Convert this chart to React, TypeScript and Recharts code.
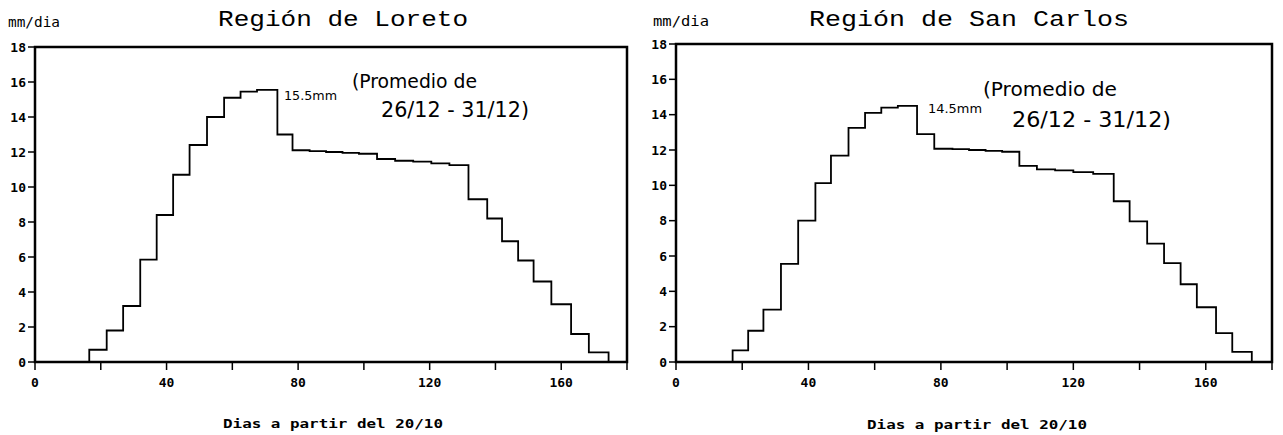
import React from 'react';
import { LineChart, Line, XAxis, YAxis, ReferenceArea } from 'recharts';

// Pentad steps: day the step starts and mean mm/day
const loretoDias = [0, 16.5, 21.8, 26.8, 32, 37, 42, 47, 52.3, 57.5, 62.5, 67.5, 73.7, 78.3, 83.5, 88.5, 93.5, 98.5, 104, 109.5, 115, 120.5, 126, 131.8, 137.5, 142, 146.9, 151.6, 157, 163, 168.4, 174.4];
const loretoMm = [0, 0.7, 1.8, 3.2, 5.85, 8.4, 10.7, 12.4, 14.0, 15.1, 15.45, 15.55, 13.0, 12.1, 12.05, 12.0, 11.95, 11.9, 11.6, 11.5, 11.45, 11.35, 11.25, 9.3, 8.2, 6.9, 5.8, 4.6, 3.3, 1.6, 0.55, 0];

const sanCarlosDias = [0, 17.1, 21.8, 26.4, 31.7, 36.9, 42.1, 46.8, 52.1, 57.1, 62, 67, 72.8, 78, 83.5, 88.5, 93.5, 98.5, 103.7, 109, 114.5, 120, 126, 132.2, 137, 142.3, 147.4, 152.4, 157.3, 163.1, 168, 173.9];
const sanCarlosMm = [0, 0.66, 1.77, 2.96, 5.55, 8.0, 10.13, 11.68, 13.25, 14.1, 14.4, 14.5, 12.9, 12.07, 12.05, 12.0, 11.95, 11.9, 11.1, 10.9, 10.85, 10.75, 10.65, 9.1, 7.96, 6.7, 5.6, 4.4, 3.1, 1.64, 0.57, 0];

const xTicks = [0, 20, 40, 60, 80, 100, 120, 140, 160, 180];
const yTicks = [0, 2, 4, 6, 8, 10, 12, 14, 16, 18];

const toRows = (dias: number[], mm: number[]) => dias.map((d, i) => ({ d, v: mm[i] }));

const tickFont = { fontFamily: 'DejaVu Sans Mono', fontSize: 13, fontWeight: 'bold', fill: '#000' } as const;

function StepChart({ dias, mm, left, top, right }: { dias: number[]; mm: number[]; left: number; top: number; right: number }) {
  return (
    <div style={{ position: 'absolute', left, top: 0 }}>
      <LineChart width={641} height={435} data={toRows(dias, mm)} margin={{ top, right, left: 5, bottom: 53 }}>
        <XAxis
          dataKey="d"
          type="number"
          domain={[0, 180]}
          ticks={xTicks}
          interval={0}
          tickFormatter={(v: number) => (v % 40 === 0 ? String(v) : '')}
          tick={tickFont}
          tickSize={8}
          tickMargin={8}
          height={20}
          axisLine={{ stroke: '#000', strokeWidth: 2 }}
          tickLine={{ stroke: '#000', strokeWidth: 1.5 }}
        />
        <YAxis
          type="number"
          domain={[0, 18]}
          ticks={yTicks}
          interval={0}
          tick={tickFont}
          tickSize={7}
          tickMargin={2}
          width={30}
          axisLine={{ stroke: '#000', strokeWidth: 2 }}
          tickLine={{ stroke: '#000', strokeWidth: 1.5 }}
        />
        <ReferenceArea x1={0} x2={180} y1={0} y2={18} fill="none" stroke="#000" strokeWidth={2.5} />
        <Line type="stepAfter" dataKey="v" stroke="#000" strokeWidth={1.8} dot={false} isAnimationActive={false} />
      </LineChart>
    </div>
  );
}

const mono = 'DejaVu Sans Mono, monospace';
const typewriter = 'Liberation Mono, Courier New, monospace';
const hand = 'DejaVu Sans Condensed, Liberation Sans Narrow, DejaVu Sans, sans-serif';

export default function App() {
  return (
    <div style={{ position: 'absolute', left: 0, top: 0, width: 1283, height: 435, background: '#fff' }}>
      <StepChart dias={loretoDias} mm={loretoMm} left={0} top={47} right={14} />
      <StepChart dias={sanCarlosDias} mm={sanCarlosMm} left={641} top={44} right={10} />
      <svg width={1283} height={435} style={{ position: 'absolute', left: 0, top: 0, pointerEvents: 'none' }}>
        <g fill="#000">
          <text x={218} y={26} fontFamily={typewriter} fontSize={22} textLength={250} lengthAdjust="spacingAndGlyphs">Región de Loreto</text>
          <text x={809} y={26} fontFamily={typewriter} fontSize={22} textLength={320} lengthAdjust="spacingAndGlyphs">Región de San Carlos</text>

          <text x={8} y={27} fontFamily={mono} fontSize={14} textLength={52} lengthAdjust="spacingAndGlyphs">mm/dia</text>
          <text x={653} y={26} fontFamily={mono} fontSize={14} textLength={56} lengthAdjust="spacingAndGlyphs">mm/dia</text>

          <text x={223} y={428} fontFamily={mono} fontSize={13} fontWeight="bold" textLength={220} lengthAdjust="spacingAndGlyphs">Dias a partir del 20/10</text>
          <text x={867} y={429} fontFamily={mono} fontSize={13} fontWeight="bold" textLength={220} lengthAdjust="spacingAndGlyphs">Dias a partir del 20/10</text>

          <text x={284} y={100} fontFamily="DejaVu Sans" fontSize={13} textLength={53} lengthAdjust="spacingAndGlyphs">15.5mm</text>
          <text x={352} y={88} fontFamily={hand} fontSize={20} textLength={125} lengthAdjust="spacingAndGlyphs">(Promedio de</text>
          <text x={381} y={117} fontFamily={hand} fontSize={21} textLength={148} lengthAdjust="spacingAndGlyphs">26/12 - 31/12)</text>

          <text x={928} y={113} fontFamily="DejaVu Sans" fontSize={13} textLength={54} lengthAdjust="spacingAndGlyphs">14.5mm</text>
          <text x={983} y={96} fontFamily={hand} fontSize={20} textLength={134} lengthAdjust="spacingAndGlyphs">(Promedio de</text>
          <text x={1012} y={127} fontFamily={hand} fontSize={21} textLength={159} lengthAdjust="spacingAndGlyphs">26/12 - 31/12)</text>
        </g>
      </svg>
    </div>
  );
}
